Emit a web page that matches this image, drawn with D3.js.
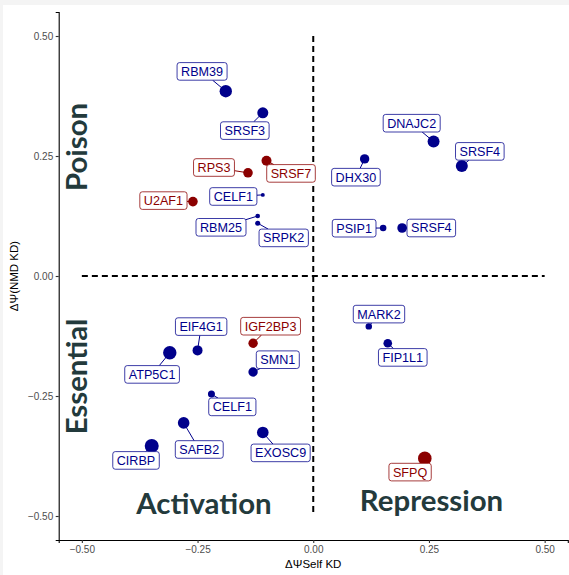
<!DOCTYPE html>
<html>
<head>
<meta charset="utf-8">
<script src="https://cdn.jsdelivr.net/npm/d3@7/dist/d3.min.js"></script>
<style>
  html, body { margin: 0; padding: 0; background: #f4f4f4; }
  svg { display: block; }
</style>
</head>
<body>
<svg id="chart" width="569" height="575"></svg>
<script>
// Splicing factor events: change in PSI after self knockdown vs. after NMD knockdown
const genes = ["RBM39", "SRSF3", "RPS3", "SRSF7", "U2AF1", "CELF1", "RBM25", "SRPK2",
  "DHX30", "DNAJC2", "SRSF4", "PSIP1", "SRSF4",
  "EIF4G1", "ATP5C1", "IGF2BP3", "SMN1", "CELF1", "SAFB2", "EXOSC9", "CIRBP",
  "MARK2", "FIP1L1", "SFPQ"];
const dPsiSelf = [-0.189, -0.109, -0.141, -0.101, -0.260, -0.109, -0.120, -0.120,
  0.111, 0.260, 0.321, 0.151, 0.192,
  -0.250, -0.310, -0.130, -0.130, -0.220, -0.280, -0.109, -0.349,
  0.120, 0.161, 0.241];
const dPsiNmd = [0.385, 0.340, 0.215, 0.240, 0.155, 0.169, 0.125, 0.110,
  0.244, 0.280, 0.229, 0.100, 0.100,
  -0.155, -0.160, -0.140, -0.200, -0.246, -0.306, -0.326, -0.354,
  -0.105, -0.140, -0.380];
const magnitude = [78, 62, 47, 51, 47, 8, 11, 13,
  45, 73, 73, 22, 47,
  51, 92, 45, 45, 25, 69, 69, 100,
  21, 38, 94];
const group = ["b", "b", "r", "r", "r", "b", "b", "b",
  "b", "b", "b", "b", "b",
  "b", "b", "r", "b", "b", "b", "b", "b",
  "b", "b", "r"];
const axisTicks = [-0.5, -0.25, 0, 0.25, 0.5];
const quadrantText = ["Poison", "Essential", "Activation", "Repression"];

// label placement (pixel offsets of each label box centre from its point)
const labelNudge = [[-23.7, -19.8], [-18, 17.8], [-34, -5.3], [24.5, 12.6], [-29.5, -1],
  [-29.5, 1.6], [-36.7, 11.3], [26, 14.7],
  [-8.7, 18.3], [-21.9, -18.4], [18, -14.7], [-29, 0.2], [29.2, 0],
  [3.6, -23.8], [-17.7, 21.6], [17.5, -17], [24.7, -12.3], [20.9, 12.8],
  [15.6, 26.6], [17.8, 20.4], [-15.7, 14.5],
  [10.2, -12.3], [15, 14.2], [-14.7, 13.7]];

const W = 569, H = 575;
const svg = d3.select("#chart");
svg.append("rect").attr("x", 3).attr("y", 5).attr("width", W - 3).attr("height", H - 5).attr("fill", "#ffffff");

const x = d3.scaleLinear().domain([-0.55, 0.55]).range([58.7, 567.8]);
const y = d3.scaleLinear().domain([-0.55, 0.55]).range([540, 12]);
const r = d3.scaleSqrt().domain([0, 100]).range([0, 7]);
const color = d3.scaleOrdinal().domain(["b", "r"]).range(["#00008B", "#8B0000"]);

const data = genes.map((g, i) => ({
  gene: g, sx: dPsiSelf[i], ny: dPsiNmd[i], m: magnitude[i], grp: group[i], nudge: labelNudge[i]
}));

// axes
const axisFont = "'Liberation Sans', Arial, sans-serif";
const gx = svg.append("g").attr("transform", `translate(0,${y.range()[0]})`)
  .call(d3.axisBottom(x).tickValues(axisTicks).tickFormat(d3.format(".2f")).tickSizeOuter(0).tickSize(3).tickPadding(3));
const gy = svg.append("g").attr("transform", `translate(${x.range()[0]},0)`)
  .call(d3.axisLeft(y).tickValues(axisTicks).tickFormat(d3.format(".2f")).tickSizeOuter(0).tickSize(3).tickPadding(2.5));
[gx, gy].forEach(g => {
  g.select(".domain").attr("stroke", "#000").attr("stroke-width", 1.1);
  g.selectAll(".tick line").attr("stroke", "#333333").attr("stroke-width", 1.1);
  g.selectAll(".tick text").attr("fill", "#4D4D4D").style("font-family", axisFont).style("font-size", "10px");
});

svg.append("text").attr("x", x(0)).attr("y", 568).attr("text-anchor", "middle")
  .style("font-family", axisFont).style("font-size", "11.5px").attr("fill", "#000")
  .text("ΔΨSelf KD");
svg.append("text").attr("transform", `translate(18,${y(0)}) rotate(-90)`).attr("text-anchor", "middle")
  .style("font-family", axisFont).style("font-size", "11.5px").attr("fill", "#000")
  .text("ΔΨ(NMD KD)");

// quadrant reference lines
svg.append("line").attr("x1", x(0)).attr("x2", x(0)).attr("y1", y(0.5)).attr("y2", y(-0.5))
  .attr("stroke", "#000").attr("stroke-width", 2).attr("stroke-dasharray", "6,4");
svg.append("line").attr("x1", x(-0.5)).attr("x2", x(0.5)).attr("y1", y(0)).attr("y2", y(0))
  .attr("stroke", "#000").attr("stroke-width", 2).attr("stroke-dasharray", "6,4");

// quadrant annotations
const bigFont = "Lato, 'Open Sans', sans-serif";
const ink = "#233a3c";
const bigSize = "29.4px";
svg.append("text").attr("transform", "translate(87,147) rotate(-90)").attr("text-anchor", "middle")
  .style("font-family", bigFont).style("font-weight", 700).style("font-size", bigSize).attr("fill", ink)
  .text(quadrantText[0]);
svg.append("text").attr("transform", "translate(87,376.5) rotate(-90)").attr("text-anchor", "middle")
  .style("font-family", bigFont).style("font-weight", 700).style("font-size", bigSize).attr("fill", ink)
  .text(quadrantText[1]);
svg.append("text").attr("x", 204).attr("y", 514).attr("text-anchor", "middle")
  .style("font-family", bigFont).style("font-weight", 700).style("font-size", bigSize).attr("fill", ink)
  .text(quadrantText[2]);
svg.append("text").attr("x", 431.5).attr("y", 510.5).attr("text-anchor", "middle")
  .style("font-family", bigFont).style("font-weight", 700).style("font-size", bigSize).attr("fill", ink)
  .text(quadrantText[3]);

// points
svg.append("g").selectAll("circle").data(data).join("circle")
  .attr("cx", d => x(d.sx)).attr("cy", d => y(d.ny)).attr("r", d => r(d.m))
  .attr("fill", d => color(d.grp));

// repelled labels with connector segments
const labelFont = "'Liberation Sans', Arial, sans-serif";
const lg = svg.append("g");
data.forEach(d => {
  const px = x(d.sx), py = y(d.ny);
  const cx = px + d.nudge[0], cy = py + d.nudge[1];
  const g = lg.append("g");
  const seg = g.append("line");
  const box = g.append("rect");
  const t = g.append("text").attr("x", cx).attr("y", cy + 4.4).attr("text-anchor", "middle")
    .style("font-family", labelFont).style("font-size", "12.6px").attr("fill", color(d.grp)).text(d.gene);
  const tw = t.node().getComputedTextLength();
  const bw = tw + 8, bh = 17.6;
  box.attr("x", cx - bw / 2).attr("y", cy - bh / 2).attr("width", bw).attr("height", bh)
    .attr("rx", 2.5).attr("fill", "#fff").attr("stroke", color(d.grp)).attr("stroke-width", 0.9).attr("stroke-opacity", 0.85);
  // segment from point toward the box centre, stopping at the box edge
  const dx = cx - px, dy = cy - py;
  let s = 1;
  if (dx !== 0) s = Math.min(s, (bw / 2) / Math.abs(dx));
  if (dy !== 0) s = Math.min(s, (bh / 2) / Math.abs(dy));
  const ex = cx - dx * s, ey = cy - dy * s;
  seg.attr("x1", px).attr("y1", py).attr("x2", ex).attr("y2", ey)
    .attr("stroke", color(d.grp)).attr("stroke-width", 1);
});
</script>
</body>
</html>
